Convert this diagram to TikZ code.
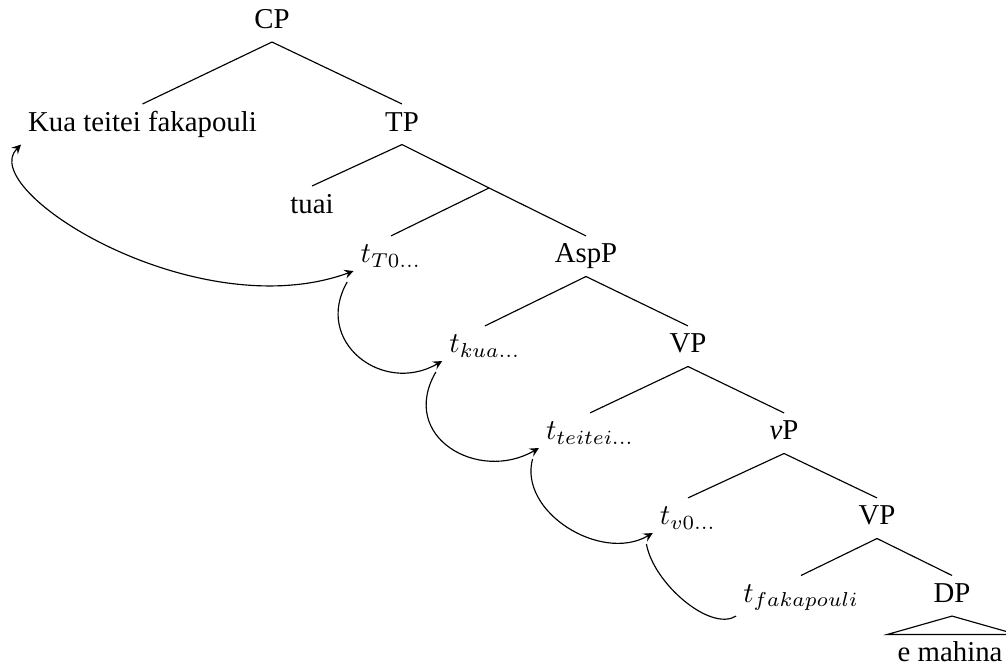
\documentclass[tikz,border=0pt]{standalone}
\usepackage[no-math]{fontspec}
\setmainfont{Liberation Serif}
\usepackage{amsmath}
\usetikzlibrary{arrows}
\tikzset{lbl/.style={anchor=base, inner sep=2.3pt, text height=6.9pt, text depth=2.2pt}}

\begin{document}
\begin{tikzpicture}[>=stealth]
\useasboundingbox (0,0) rectangle (12.283,-8.156);
\node (CP) at (3.321,-0.348) [lbl] {CP};
\node (Kua) at (1.740,-1.600) [lbl] {Kua teitei fakapouli};
\node (TP) at (4.908,-1.600) [lbl] {TP};
\node (tuai) at (3.810,-2.601) [lbl] {tuai};
\coordinate (Tbar) at (5.971,-2.295);
\node (tT0) at (4.774,-3.211) [lbl] {$t_{T0...}$};
\node (AspP) at (7.155,-3.211) [lbl] {AspP};
\node (tkua) at (5.921,-4.310) [lbl] {$t_{kua...}$};
\node (VPa) at (8.400,-4.310) [lbl] {VP};
\node (tteitei) at (7.204,-5.372) [lbl] {$t_{teitei...}$};
\node (vP) at (9.573,-5.372) [lbl] {\textit{v}P};
\node (tv0) at (8.400,-6.410) [lbl] {$t_{v0...}$};
\node (VPb) at (10.708,-6.410) [lbl] {VP};
\node (tfak) at (9.780,-7.357) [lbl] {$t_{fakapouli}$};
\node (DP) at (11.624,-7.357) [lbl] {DP};
\node (mahina) at (11.600,-8.077) [lbl] {e mahina};
\coordinate (DPbase) at (DP.south |- mahina.north);

\draw (CP.south) -- (Kua.north);
\draw (CP.south) -- (TP.north);
\draw (TP.south) -- (tuai.north);
\draw (TP.south) -- (Tbar);
\draw (Tbar) -- (tT0.north);
\draw (Tbar) -- (AspP.north);
\draw (AspP.south) -- (tkua.north);
\draw (AspP.south) -- (VPa.north);
\draw (VPa.south) -- (tteitei.north);
\draw (VPa.south) -- (vP.north);
\draw (vP.south) -- (tv0.north);
\draw (vP.south) -- (VPb.north);
\draw (VPb.south) -- (tfak.north);
\draw (VPb.south) -- (DP.north);
\draw (DP.south) -- ([xshift=-0.79cm]DPbase) -- ([xshift=0.79cm]DPbase) -- cycle;

\draw [<->] (Kua.south west) to[out=-135, in=200, out distance=0.79cm, in distance=2.05cm] ([yshift=-2.8pt]tT0.base west);
\draw [->] ([shift={(-2.2pt,-6.6pt)}]tT0.base west) to[out=-120, in=210, out distance=0.84cm, in distance=0.84cm] ([yshift=-2.8pt]tkua.base west);
\draw [->] ([shift={(-2.2pt,-6.6pt)}]tkua.base west) to[out=-120, in=210, out distance=0.92cm, in distance=0.85cm] ([yshift=-2.8pt]tteitei.base west);
\draw [->] ([shift={(-2.2pt,-6.6pt)}]tteitei.base west) to[out=-105, in=210, out distance=0.67cm, in distance=0.73cm] ([yshift=-2.8pt]tv0.base west);
\draw ([shift={(-2.2pt,-6.6pt)}]tv0.base west) to[out=-80, in=212, out distance=0.49cm, in distance=0.37cm] (tfak.south west);
\end{tikzpicture}
\end{document}
